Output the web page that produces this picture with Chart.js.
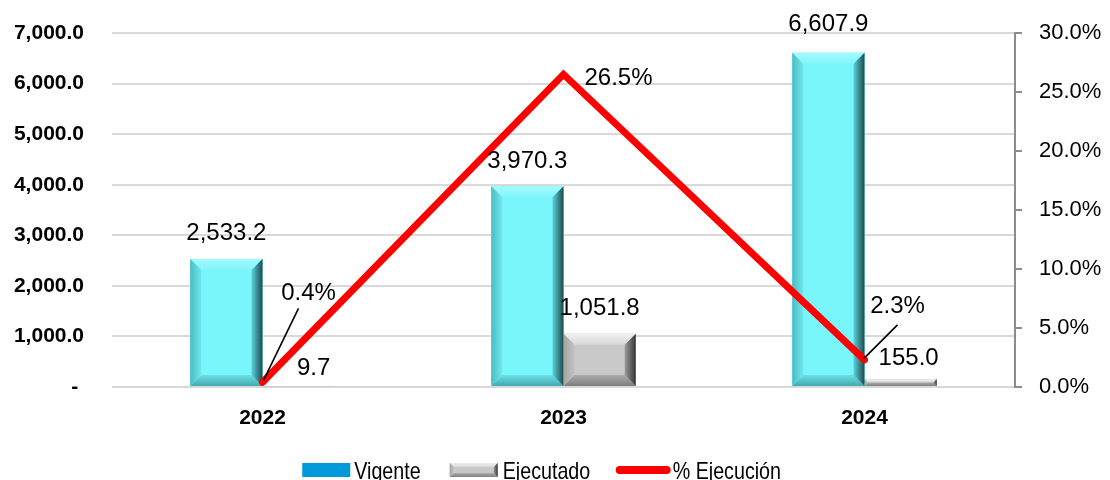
<!DOCTYPE html>
<html>
<head>
<meta charset="utf-8">
<script src="https://cdn.jsdelivr.net/npm/chart.js@4.4.1/dist/chart.umd.min.js"></script>
<style>
  html, body { margin: 0; padding: 0; background: #fff; overflow: hidden; }
  #wrap { width: 1110px; height: 480px; overflow: hidden; }
</style>
</head>
<body>
<div id="wrap"><canvas id="chart" width="1110" height="490"></canvas></div>
<script>
// Vigente vs Ejecutado per year, with % execution on right axis

const years = ['2022', '2023', '2024'];
const vigente = [2533.2, 3970.3, 6607.9];
const ejecutado = [9.7, 1051.8, 155.0];
const pctEjecucion = [0.4, 26.5, 2.3];

const leftTicks = { min: 0, max: 7000, step: 1000 };
const rightTicks = { min: 0, max: 30, step: 5 };

const fmtNum = v => v.toLocaleString('en-US', { minimumFractionDigits: 1, maximumFractionDigits: 1 });
const fmtPct = v => v.toFixed(1) + '%';

const cyan = {
    face: '#79f6fc',
    top: ['#a4fbff', '#80f5fb'],
    left: ['#4cbcc3', '#6fe8ee'],
    right: ['#1d4a4e', '#5cd3d9'],
    bottom: ['#44a9af', '#6ae2e8']
};
const gray = {
    face: '#c9c9c9',
    top: ['#f0f0f0', '#d8d8d8'],
    left: ['#a4a4a4', '#c2c2c2'],
    right: ['#353535', '#9a9a9a'],
    bottom: ['#7e7e7e', '#acacac']
};

function poly(ctx, pts, fill) {
    ctx.beginPath();
    ctx.moveTo(pts[0][0], pts[0][1]);
    for (let i = 1; i < pts.length; i++) ctx.lineTo(pts[i][0], pts[i][1]);
    ctx.closePath();
    ctx.fillStyle = fill;
    ctx.fill();
}

// Excel style bevel on a rectangle
function drawBevel(ctx, L, T, R, B, b, c) {
    const w = R - L, h = B - T;
    if (w <= 0 || h <= 0) return;
    b = Math.min(b, w / 2, h / 2);
    ctx.fillStyle = c.face;
    ctx.fillRect(L, T, w, h);
    if (b < 0.6) return;
    let g = ctx.createLinearGradient(0, T, 0, T + b);
    g.addColorStop(0, c.top[0]); g.addColorStop(1, c.top[1]);
    poly(ctx, [[L, T], [R, T], [R - b, T + b], [L + b, T + b]], g);
    g = ctx.createLinearGradient(0, B, 0, B - b);
    g.addColorStop(0, c.bottom[0]); g.addColorStop(1, c.bottom[1]);
    poly(ctx, [[L, B], [R, B], [R - b, B - b], [L + b, B - b]], g);
    g = ctx.createLinearGradient(L, 0, L + b, 0);
    g.addColorStop(0, c.left[0]); g.addColorStop(1, c.left[1]);
    poly(ctx, [[L, T], [L + b, T + b], [L + b, B - b], [L, B]], g);
    g = ctx.createLinearGradient(R, 0, R - b, 0);
    g.addColorStop(0, c.right[0]); g.addColorStop(1, c.right[1]);
    poly(ctx, [[R, T], [R - b, T + b], [R - b, B - b], [R, B]], g);
}

const bevelPlugin = {
    id: 'bevel',
    afterDatasetDraw(chart, args) {
        if (args.meta.type !== 'bar') return;
        const ctx = chart.ctx;
        const colors = args.index === 0 ? cyan : gray;
        ctx.save();
        args.meta.data.forEach(bar => {
            const p = bar.getProps(['x', 'y', 'base', 'width'], true);
            drawBevel(ctx, p.x - p.width / 2, Math.min(p.y, p.base), p.x + p.width / 2, Math.max(p.y, p.base), 11, colors);
        });
        ctx.restore();
    }
};

// label offsets (dx, dy of label centre) relative to bar top / line point
const barLabelOffsets = [
    [[0, -27], [0, -27], [0, -30]],
    [[15, -20], [0, -27], [8, -23]]
];
const pctLabelOffsets = [[46, -91], [55, 2], [33, -55]];
const leaderLines = [[[1, -2], [36, -74]], null, [[-1, -1], [33, -35]]];

const labelPlugin = {
    id: 'labels',
    afterDatasetsDraw(chart) {
        const ctx = chart.ctx;
        ctx.save();
        ctx.font = '24px "Liberation Sans", Arial, sans-serif';
        ctx.fillStyle = '#000';
        ctx.textAlign = 'center';
        ctx.textBaseline = 'alphabetic';
        [0, 1].forEach(di => {
            const meta = chart.getDatasetMeta(di);
            const values = chart.data.datasets[di].data;
            meta.data.forEach((bar, i) => {
                const o = barLabelOffsets[di][i];
                ctx.fillText(fmtNum(values[i]), bar.x + o[0], bar.y + o[1] + 8.6);
            });
        });
        const lmeta = chart.getDatasetMeta(2);
        const lvals = chart.data.datasets[2].data;
        lmeta.data.forEach((pt, i) => {
            const o = pctLabelOffsets[i];
            ctx.fillText(fmtPct(lvals[i]), pt.x + o[0], pt.y + o[1] + 8.6);
            const l = leaderLines[i];
            if (l) {
                ctx.beginPath();
                ctx.strokeStyle = '#000';
                ctx.lineWidth = 1.6;
                ctx.moveTo(pt.x + l[0][0], pt.y + l[0][1]);
                ctx.lineTo(pt.x + l[1][0], pt.y + l[1][1]);
                ctx.stroke();
            }
        });
        ctx.restore();
    }
};

// legend swatches + narrow legend text, at the positions the legend computed
const swatchPlugin = {
    id: 'swatches',
    afterDraw(chart) {
        const legend = chart.legend;
        const boxes = legend && legend.legendHitBoxes;
        if (!boxes) return;
        const ctx = chart.ctx;
        ctx.save();
        boxes.forEach((hb, i) => {
            const t = hb.left + 46;
            const cy = hb.top + hb.height / 2;
            if (i === 0) {
                ctx.fillStyle = '#0099da';
                ctx.fillRect(t - 52, cy - 7, 48, 14);
            } else if (i === 1) {
                drawBevel(ctx, t - 53, cy - 7, t - 5, cy + 7, 4, gray);
            } else {
                ctx.beginPath();
                ctx.strokeStyle = '#ff0000';
                ctx.lineWidth = 8;
                ctx.lineCap = 'round';
                ctx.moveTo(t - 53, cy);
                ctx.lineTo(t - 6, cy);
                ctx.stroke();
            }
            // Arial-Narrow look: Liberation Sans squeezed horizontally
            ctx.save();
            ctx.translate(t, cy);
            ctx.scale(0.82, 1);
            ctx.font = '24px "Liberation Sans", Arial, sans-serif';
            ctx.fillStyle = '#000';
            ctx.textAlign = 'left';
            ctx.textBaseline = 'alphabetic';
            ctx.fillText(legend.legendItems[i].text, 0, 8.6);
            ctx.restore();
        });
        ctx.restore();
    }
};

// vertical axes: no extra room above the plot for the tick padding
const noVerticalPadding = scale => {
    scale.paddingTop = 0;
    scale.paddingBottom = 0;
};

const ctx = document.getElementById('chart').getContext('2d');

new Chart(ctx, {
    type: 'bar',
    data: {
        labels: years,
        datasets: [
            {
                label: 'Vigente',
                data: vigente,
                backgroundColor: cyan.face,
                borderWidth: 0,
                yAxisID: 'y',
                order: 1
            },
            {
                label: 'Ejecutado',
                data: ejecutado,
                backgroundColor: gray.face,
                borderWidth: 0,
                yAxisID: 'y',
                order: 1
            },
            {
                label: '% Ejecución',
                data: pctEjecucion,
                type: 'line',
                borderColor: '#ff0000',
                borderWidth: 7,
                borderCapStyle: 'round',
                borderJoinStyle: 'miter',
                pointRadius: 0,
                tension: 0,
                fill: false,
                yAxisID: 'y1',
                order: 0
            }
        ]
    },
    options: {
        responsive: false,
        animation: false,
        events: [],
        layout: {
            padding: { top: 33, left: 0, right: 19, bottom: 0 }
        },
        datasets: {
            bar: { categoryPercentage: 0.48, barPercentage: 1 }
        },
        plugins: {
            tooltip: { enabled: false },
            legend: {
                position: 'bottom',
                labels: {
                    boxWidth: 36,
                    boxHeight: 14,
                    padding: 35,
                    color: 'rgba(0,0,0,0)',
                    font: { family: '"Liberation Sans", Arial, sans-serif', size: 20 },
                    generateLabels: chart => chart.data.datasets.map((ds, i) => ({
                        text: ds.label,
                        fillStyle: 'rgba(0,0,0,0)',
                        strokeStyle: 'rgba(0,0,0,0)',
                        lineWidth: 0,
                        hidden: false,
                        datasetIndex: i,
                        fontColor: 'rgba(0,0,0,0)'
                    }))
                }
            }
        },
        scales: {
            x: {
                grid: { display: false, drawTicks: false },
                border: { display: false },
                ticks: {
                    padding: 19,
                    color: '#000',
                    font: { family: '"Liberation Sans", Arial, sans-serif', size: 21, weight: 'bold' }
                },
                afterFit: scale => { scale.height = 38; }
            },
            y: {
                position: 'left',
                min: leftTicks.min,
                max: leftTicks.max,
                grid: { color: '#d9d9d9', lineWidth: 2, drawTicks: false },
                border: { display: false },
                ticks: {
                    stepSize: leftTicks.step,
                    padding: 28,
                    color: '#000',
                    font: { family: '"Liberation Sans", Arial, sans-serif', size: 21, weight: 'bold' },
                    callback: v => v === 0 ? '- ' : fmtNum(v)
                },
                afterFit: scale => {
                    scale.width = 112;
                    noVerticalPadding(scale);
                }
            },
            y1: {
                position: 'right',
                min: rightTicks.min,
                max: rightTicks.max,
                grid: { drawOnChartArea: false, color: '#8c8c8c', lineWidth: 2, tickLength: 7 },
                border: { display: true, color: '#8c8c8c', width: 2 },
                ticks: {
                    stepSize: rightTicks.step,
                    padding: 17,
                    color: '#000',
                    font: { family: '"Liberation Sans", Arial, sans-serif', size: 22 },
                    callback: v => fmtPct(v)
                },
                afterFit: scale => {
                    scale.width = 76;
                    noVerticalPadding(scale);
                    // let the tick labels run past the axis box into the right margin
                    scale._computeLabelArea = () => undefined;
                }
            }
        }
    },
    plugins: [bevelPlugin, labelPlugin, swatchPlugin]
});
</script>
</body>
</html>
